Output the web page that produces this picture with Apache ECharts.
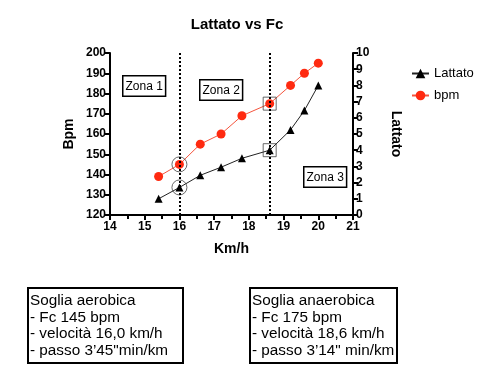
<!DOCTYPE html>
<html><head><meta charset="utf-8">
<script src="https://cdn.jsdelivr.net/npm/echarts@6/dist/echarts.min.js"></script>
<style>html,body{margin:0;padding:0;background:#fff}#c{width:490px;height:381px}</style>
</head><body><div id="c"></div>
<script>
var speed = [15.4, 16.0, 16.6, 17.2, 17.8, 18.6, 19.2, 19.6, 20.0];
var bpm = [139, 145, 155, 160, 169, 175, 184, 190, 195];
var lattato = [1.0, 1.7, 2.45, 2.95, 3.5, 4.0, 5.25, 6.45, 8.0];
var thresholds = [16.0, 18.6];
var zoneLabels = ['Zona 1', 'Zona 2', 'Zona 3'];
var box1 = ['Soglia aerobica', '- Fc 145 bpm', '- velocità 16,0 km/h', '- passo 3\u201945"min/km'];
var box2 = ['Soglia anaerobica', '- Fc 175 bpm', '- velocità 18,6 km/h', '- passo 3\u201914" min/km'];

var FONT = 'Liberation Sans, Arial, sans-serif';
function pairs(xs, ys){ return xs.map(function(x,i){return [x, ys[i]];}); }
function pick(xs, ys, keys){ var out=[]; xs.forEach(function(x,i){ if(keys.indexOf(x)>=0) out.push([x, ys[i]]); }); return out; }

var chart = echarts.init(document.getElementById('c'));
var axisLabel = {color:'#000', fontFamily:FONT, fontWeight:'bold', fontSize:12};
var axisLine = {show:true, lineStyle:{color:'#000', width:2}};
var nameStyle = {color:'#000', fontFamily:FONT, fontWeight:'bold', fontSize:14};

function zoneBox(text, x, y){
  return {type:'text', left:x, top:y, style:{text:text, font:'12px '+FONT, fill:'#000',
    padding:[4,2,3,2], borderColor:'#000', borderWidth:1.5, backgroundColor:'#fff'}, z:100};
}
function infoBox(lines, x, y, w, h){
  return {type:'group', left:x, top:y, children:[
    {type:'rect', shape:{x:0,y:0,width:w,height:h}, style:{fill:'#fff', stroke:'#000', lineWidth:2}},
    {type:'text', x:2, y:5, style:{text:lines.join('\n'), font:'15.3px '+FONT, fill:'#000', lineHeight:16.5}}
  ]};
}

chart.setOption({
  animation:false,
  backgroundColor:'#fff',
  title:{text:'Lattato vs Fc', left:232, top:12, textAlign:'center',
    textStyle:{fontFamily:FONT, fontWeight:'bold', fontSize:15, color:'#000'}},
  legend:{orient:'vertical', left:406, top:62, itemGap:9, itemWidth:17, itemHeight:12,
    textStyle:{fontFamily:FONT, fontSize:13, color:'#000'},
    data:['Lattato','bpm']},
  grid:{left:110, right:137, top:53, bottom:166},
  xAxis:{type:'value', min:14, max:21, interval:1, name:'Km/h', nameLocation:'middle', nameGap:27,
    nameTextStyle:nameStyle, axisLine:axisLine, axisTick:{show:true, length:5, lineStyle:{color:'#000', width:2}},
    minorTick:{show:true, splitNumber:2, length:4, lineStyle:{color:'#000', width:2}},
    axisLabel:Object.assign({margin:6}, axisLabel), splitLine:{show:false}},
  yAxis:[
    {type:'value', min:120, max:200, interval:10, position:'left', name:'Bpm', nameLocation:'middle', nameGap:34,
     nameTextStyle:nameStyle, axisLine:axisLine, axisTick:{show:true, length:5, lineStyle:{color:'#000', width:2}},
     axisLabel:Object.assign({margin:4}, axisLabel), splitLine:{show:false}},
    {type:'value', min:0, max:10, interval:1, position:'right', name:'Lattato', nameLocation:'middle', nameGap:36,
     nameRotate:-90, nameTextStyle:nameStyle, axisLine:axisLine, axisTick:{show:true, length:5, lineStyle:{color:'#000', width:2}},
     axisLabel:Object.assign({margin:3}, axisLabel), splitLine:{show:false}}
  ],
  series:[
    {name:'Lattato', type:'line', yAxisIndex:1, data:pairs(speed, lattato), symbol:'triangle', symbolSize:8,
     itemStyle:{color:'#000'}, lineStyle:{color:'#222', width:1}, z:3,
     markLine:{silent:true, symbol:'none', label:{show:false}, lineStyle:{color:'#000', type:'dotted', width:2},
       data:thresholds.map(function(t){return {xAxis:t};})}},
    {name:'bpm', type:'line', yAxisIndex:0, data:pairs(speed, bpm), symbol:'circle', symbolSize:9,
     itemStyle:{color:'#ff2a10'}, lineStyle:{color:'#f5553e', width:1}, z:3},
    {name:'ring1', type:'scatter', yAxisIndex:0, data:pick(speed, bpm, [thresholds[0]]), symbol:'circle', symbolSize:15,
     itemStyle:{color:'rgba(0,0,0,0)', borderColor:'#444', borderWidth:1}, z:4, silent:true},
    {name:'ring2', type:'scatter', yAxisIndex:1, data:pick(speed, lattato, [thresholds[0]]), symbol:'circle', symbolSize:15,
     itemStyle:{color:'rgba(0,0,0,0)', borderColor:'#444', borderWidth:1}, z:4, silent:true},
    {name:'sq1', type:'scatter', yAxisIndex:0, data:pick(speed, bpm, [thresholds[1]]), symbol:'rect', symbolSize:13,
     itemStyle:{color:'rgba(0,0,0,0)', borderColor:'#444', borderWidth:1}, z:4, silent:true},
    {name:'sq2', type:'scatter', yAxisIndex:1, data:pick(speed, lattato, [thresholds[1]]), symbol:'rect', symbolSize:13,
     itemStyle:{color:'rgba(0,0,0,0)', borderColor:'#444', borderWidth:1}, z:4, silent:true}
  ],
  graphic:[
    zoneBox(zoneLabels[0], 122, 75),
    zoneBox(zoneLabels[1], 199, 79),
    zoneBox(zoneLabels[2], 303, 166),
    infoBox(box1, 27, 287, 155, 75),
    infoBox(box2, 249, 287, 147, 75)
  ]
});
</script></body></html>
